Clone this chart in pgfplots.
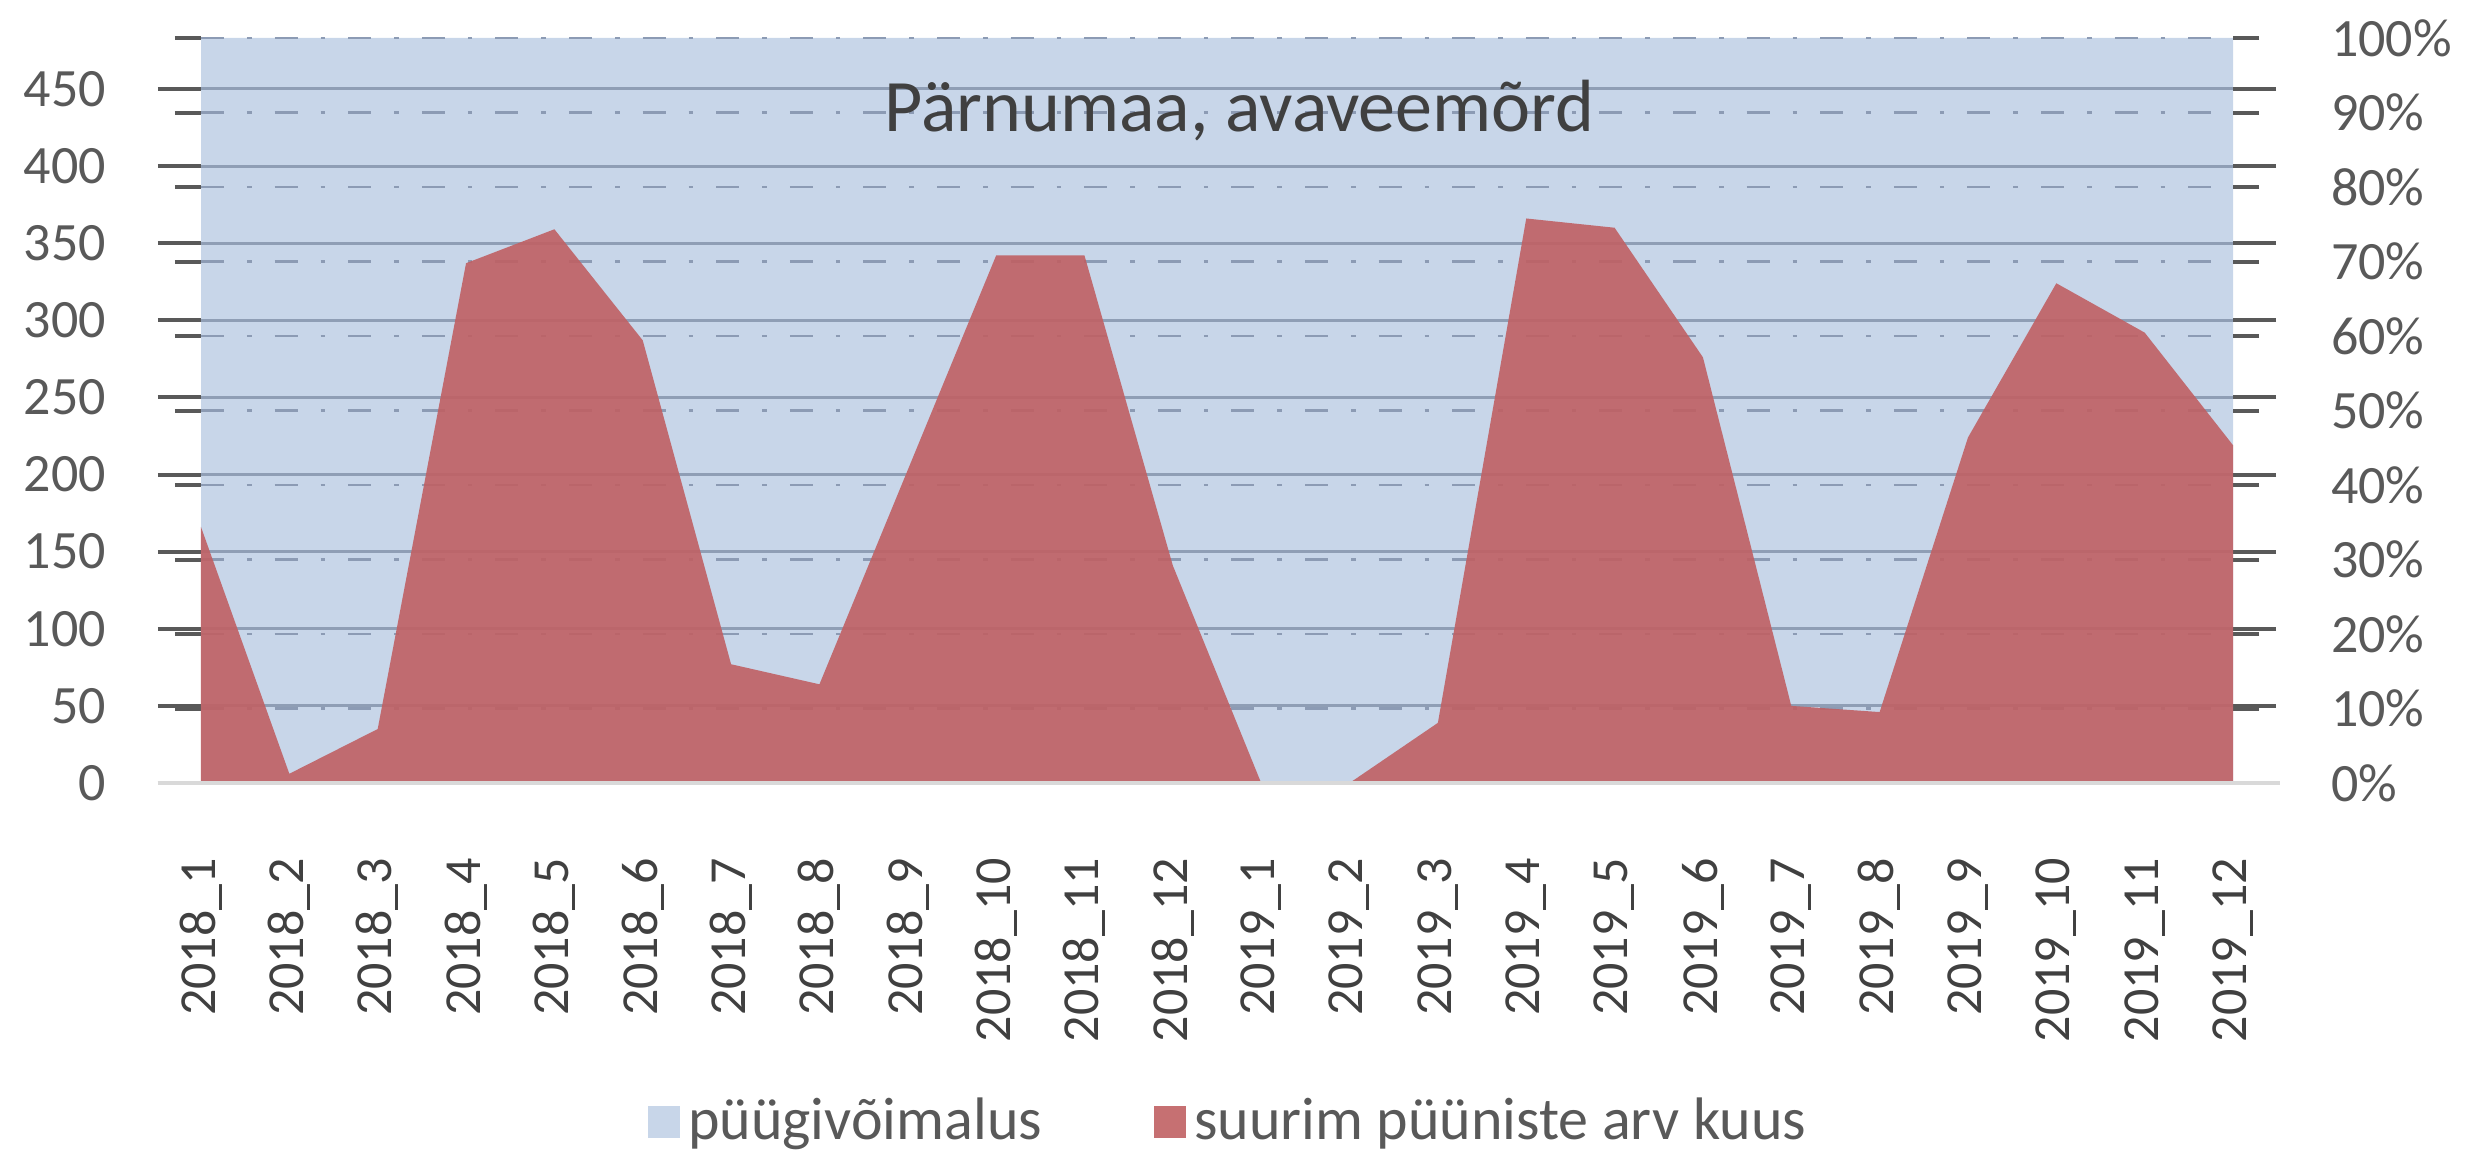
\documentclass[border=0pt]{standalone}
\usepackage{pgfplots}
\pgfplotsset{compat=1.18}
\usepackage{fontspec}
\setmainfont{Carlito}
\definecolor{bluefill}{RGB}{200,214,233}
\definecolor{redfill}{RGB}{192,96,99}
\definecolor{gridsolid}{RGB}{143,158,181}
\definecolor{griddash}{RGB}{140,155,180}
\definecolor{tickgray}{RGB}{89,89,89}
\definecolor{labelgray}{RGB}{89,89,89}
\definecolor{titlegray}{RGB}{64,64,64}
\definecolor{axisline}{RGB}{217,217,217}

\pgfplotstableread{
x red
0 166
1 6
2 35
3 337
4 359
5 287
6 77
7 64
8 203
9 342
10 342
11 141
12 0
13 0
14 39
15 366
16 360
17 276
18 50
19 46
20 224
21 324
22 292
23 219
}\redtable

\pgfplotstableread{
x blue
0 1
1 1
2 1
3 1
4 1
5 1
6 1
7 1
8 1
9 1
10 1
11 1
12 1
13 1
14 1
15 1
16 1
17 1
18 1
19 1
20 1
21 1
22 1
23 1
}\bluetable

\begin{document}
\begin{tikzpicture}
\begin{axis}[name=pct, scale only axis, width=508pt, height=186.25pt,
  xmin=0, xmax=23, ymin=0, ymax=1,
  axis x line=none, axis y line*=right,
  axis line style={draw=none},
  ytick={0,0.1,0.2,0.3,0.4,0.5,0.6,0.7,0.8,0.9,1},
  yticklabels={0\%,10\%,20\%,30\%,40\%,50\%,60\%,70\%,80\%,90\%,100\%},
  ytick style={draw=none},
  yticklabel style={font=\fontsize{13.5}{16}\selectfont, text=labelgray, anchor=west},
  yticklabel shift=21pt,
  clip=false]
\addplot[fill=bluefill, draw=none] table[x=x, y=blue] {\bluetable} \closedcycle;
\end{axis}

\begin{axis}[name=main, scale only axis, width=508pt, height=186.25pt,
  xmin=0, xmax=23, ymin=0, ymax=483,
  axis line style={draw=none},
  ytick={0,50,100,150,200,250,300,350,400,450},
  ytick pos=both, yticklabel pos=left,
  tick align=outside,
  major tick length=10.75pt,
  ytick style={draw=tickgray, line width=1pt},
  ymajorgrids, major grid style={gridsolid, line width=0.75pt},
  extra y ticks={48.3,96.6,144.9,193.2,241.5,289.8,338.1,386.4,434.7,483},
  extra y tick labels={},
  extra y tick style={grid=major, major grid style={griddash, line width=0.6pt, dash pattern=on 5.75pt off 5.75pt on 1.15pt off 5.75pt}, major tick length=6.5pt},
  xtick={0,1,...,23},
  xticklabels={2018\_1,2018\_2,2018\_3,2018\_4,2018\_5,2018\_6,2018\_7,2018\_8,2018\_9,2018\_10,2018\_11,2018\_12,2019\_1,2019\_2,2019\_3,2019\_4,2019\_5,2019\_6,2019\_7,2019\_8,2019\_9,2019\_10,2019\_11,2019\_12},
  xtick style={draw=none},
  xticklabel style={rotate=90, anchor=east, font=\fontsize{13}{15}\selectfont, text=titlegray},
  xticklabel shift=4.5pt,
  yticklabel style={font=\fontsize{13.5}{16}\selectfont, text=labelgray},
  yticklabel shift=9.5pt,
  /pgf/number format/assume math mode=true,
  legend columns=2,
  legend style={at={(0.507,-0.455)}, anchor=center, draw=none, fill=none,
    font=\fontsize{15}{18}\selectfont, text=labelgray,
    /tikz/every even column/.append style={column sep=26pt}},
  legend cell align=left,
  legend image code/.code={\fill[#1] (0pt,-4pt) rectangle (8pt,4pt);},
  ]
\addlegendimage{fill=bluefill, draw=none}
\addlegendentry{püügivõimalus}
\addplot[fill=redfill, fill opacity=0.9, draw=none] table[x=x, y=red] {\redtable} \closedcycle;
\addlegendentry{suurim püüniste arv kuus}
\node[font=\fontsize{18.5}{22}\selectfont, text=titlegray] at (rel axis cs:0.511,0.903) {Pärnumaa, avaveemõrd};
\end{axis}
\draw[axisline, line width=1pt] ([xshift=-10.75pt]main.south west) -- ([xshift=11.75pt]main.south east);
\pgfresetboundingbox
\path ([xshift=-50.25pt,yshift=9.5pt]main.north west) rectangle ([xshift=58.75pt,yshift=-93.25pt]main.south east);
\end{tikzpicture}
\end{document}
